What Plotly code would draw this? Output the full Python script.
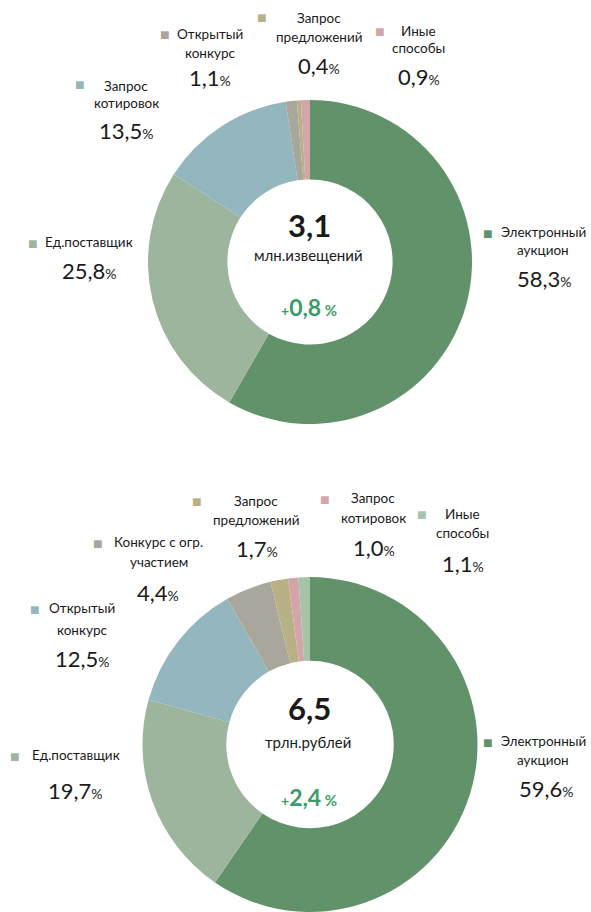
import plotly.graph_objects as go

W, H = 591, 912

# ---- data ----
top_labels = ["Электронный аукцион", "Ед.поставщик", "Запрос котировок",
              "Открытый конкурс", "Запрос предложений", "Иные способы"]
top_values = [58.3, 25.8, 13.5, 1.1, 0.4, 0.9]
top_colors = ["#61926a", "#9db59c", "#94b6bf", "#a9a79b", "#b9b186", "#d4a5a8"]
top_total = "3,1"
top_unit = "млн.извещений"
top_change = "0,8"

bot_labels = ["Электронный аукцион", "Ед.поставщик", "Открытый конкурс",
              "Конкурс с огр. участием", "Запрос предложений", "Запрос котировок", "Иные способы"]
bot_values = [59.6, 19.7, 12.5, 4.4, 1.7, 1.0, 1.1]
bot_colors = ["#61926a", "#9db59c", "#94b6bf", "#a9a79b", "#b9b186", "#d4a5a8", "#a5c3a9"]
bot_total = "6,5"
bot_unit = "трлн.рублей"
bot_change = "2,4"

# ---- layout (label placement, pixels) ----
top_layout = [
    dict(lines=["Электронный", "аукцион"], sq=(488, 232), lx=543, ly=[232, 250], v=(544, 278)),
    dict(lines=["Ед.поставщик"], sq=(33, 242), lx=89, ly=[242], v=(89, 270)),
    dict(lines=["Запрос", "котировок"], sq=(80, 84), lx=126, ly=[86, 103], v=(126, 130)),
    dict(lines=["Открытый", "конкурс"], sq=(165, 33), lx=210, ly=[34, 53], v=(210, 78)),
    dict(lines=["Запрос", "предложений"], sq=(262, 16), lx=319, ly=[18, 37], v=(319, 65)),
    dict(lines=["Иные", "способы"], sq=(380, 30), lx=418, ly=[31, 48], v=(419, 76)),
]
bot_layout = [
    dict(lines=["Электронный", "аукцион"], sq=(488, 741), lx=543, ly=[741, 760], v=(546, 788)),
    dict(lines=["Ед.поставщик"], sq=(15, 755), lx=76, ly=[755], v=(76, 790)),
    dict(lines=["Открытый", "конкурс"], sq=(35, 608), lx=82, ly=[608, 630], v=(83, 658)),
    dict(lines=["Конкурс с огр.", "участием"], sq=(98, 542), lx=159, ly=[542, 562], v=(158, 592)),
    dict(lines=["Запрос", "предложений"], sq=(197, 500), lx=256, ly=[501, 520], v=(257, 548)),
    dict(lines=["Запрос", "котировок"], sq=(325, 498), lx=373, ly=[498, 518], v=(374, 547)),
    dict(lines=["Иные", "способы"], sq=(422, 513), lx=462, ly=[514, 533], v=(463, 563)),
]

FONT = "Lato, 'Open Sans', sans-serif"
TXT = "#1a1a1a"
GREEN_TXT = "#3a9d69"


def px(x, y):
    return x / W, 1 - y / H


def fmt(v):
    return f"{v:.1f}".replace(".", ",")


def donut(values, labels, colors, cx, cy, r, hole, clip_bottom=False):
    x0, x1 = (cx - r) / W, (cx + r) / W
    if clip_bottom:
        y0 = 0.0
        y1 = 2 * r / H
    else:
        y0, y1 = 1 - (cy + r) / H, 1 - (cy - r) / H
    return go.Pie(values=values, labels=labels, marker=dict(colors=colors, line=dict(width=0)),
                  hole=hole, sort=False, direction="clockwise", rotation=0,
                  textinfo="none", hoverinfo="label+percent", showlegend=False,
                  domain=dict(x=[x0, x1], y=[y0, y1]))


fig = go.Figure()
fig.add_trace(donut(top_values, top_labels, top_colors, 310, 262, 162, 0.51))
fig.add_trace(donut(bot_values, bot_labels, bot_colors, 310, 745, 167.5, 0.5, clip_bottom=True))

annotations = []


def add_text(x, y, text, size, color=TXT, xanchor="center"):
    ax, ay = px(x, y)
    annotations.append(dict(x=ax, y=ay, xref="paper", yref="paper", text=text,
                            showarrow=False, xanchor=xanchor, yanchor="middle",
                            font=dict(family=FONT, size=size, color=color)))


def add_labels(values, colors, lay):
    for v, c, L in zip(values, colors, lay):
        add_text(L["sq"][0], L["sq"][1], "■", 16, color=c)
        for line, y in zip(L["lines"], L["ly"]):
            add_text(L["lx"], y, line, 13.5)
        add_text(L["v"][0], L["v"][1], fmt(v) + "<span style='font-size:14px'>%</span>", 22)


add_labels(top_values, top_colors, top_layout)
add_labels(bot_values, bot_colors, bot_layout)


def add_center(cy_total, cy_unit, cy_change, total, unit, change):
    add_text(309, cy_total, f"<b>{total}</b>", 31)
    add_text(308, cy_unit, unit, 15)
    add_text(309, cy_change,
             f"<span style='font-size:14px'><b>+</b></span><b>{change}</b>"
             f"<span style='font-size:15px'><b> %</b></span>", 23, color=GREEN_TXT)


add_center(225, 255, 307, top_total, top_unit, top_change)
add_center(708, 742, 797, bot_total, bot_unit, bot_change)

fig.update_layout(width=W, height=H, margin=dict(l=0, r=0, t=0, b=0),
                  paper_bgcolor="white", plot_bgcolor="white",
                  annotations=annotations)

fig.write_html("out.html", config={"displayModeBar": False},
               post_script="document.body.style.margin='0';document.body.style.overflow='hidden';")
